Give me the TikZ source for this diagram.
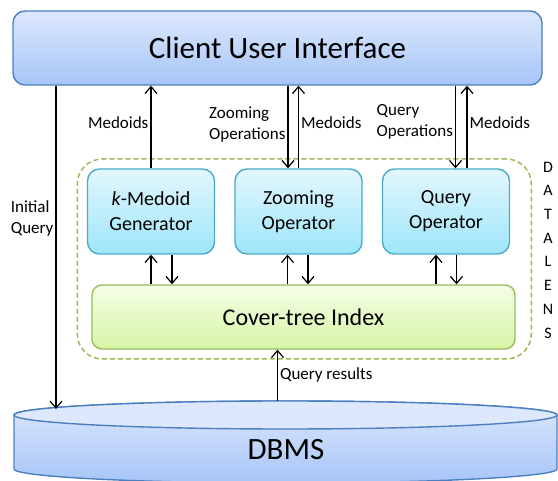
\documentclass[tikz,border=0pt]{standalone}
\usepackage{fontspec}
\setmainfont{Carlito}
\usetikzlibrary{arrows.meta,positioning}
\definecolor{uiblue}  {RGB}{ 76,127,192}
\definecolor{uitop}   {RGB}{221,232,253}
\definecolor{uibot}   {RGB}{166,197,247}
\definecolor{opaqua}  {RGB}{ 75,172,198}
\definecolor{optop}   {RGB}{227,247,253}
\definecolor{opbot}   {RGB}{158,229,250}
\definecolor{idxgreen}{RGB}{155,187, 89}
\definecolor{idxtop}  {RGB}{245,253,230}
\definecolor{idxbot}  {RGB}{214,246,166}

\begin{document}
\begin{tikzpicture}[
    x=1pt, y=-1pt,
    block/.style={draw, rectangle, rounded corners=12pt, line width=1.4pt, align=center, inner sep=0pt},
    uibox/.style={block, draw=uiblue, top color=uitop, bottom color=uibot, minimum width=529pt, minimum height=74pt, font=\fontsize{31}{37}\selectfont},
    opbox/.style={block, draw=opaqua, top color=optop, bottom color=opbot, minimum width=127pt, minimum height=85pt, font=\fontsize{20}{25}\selectfont},
    idxbox/.style={block, draw=idxgreen, top color=idxtop, bottom color=idxbot, rounded corners=10pt, minimum width=423pt, minimum height=64pt, font=\fontsize{24}{28}\selectfont},
    lensbox/.style={draw=idxgreen, dash pattern=on 5pt off 3pt, line width=1.5pt, rounded corners=25pt, minimum width=454pt, minimum height=200pt},
    lbl/.style={font=\fontsize{17}{21}\selectfont, align=left, inner sep=2pt},
    arrow/.style={-{Straight Barb[length=7pt,width=12pt]}, line width=1.2pt}
]
    \useasboundingbox (0,0) rectangle (558,481);

    % DBMS cylinder
    \draw[draw=uiblue, line width=1.4pt, top color=uitop, bottom color=uibot]
        (14,415) -- (14,469) arc[start angle=180, end angle=360, x radius=271.5pt, y radius=14pt]
        -- (557,415) arc[start angle=0, end angle=180, x radius=271.5pt, y radius=14pt] -- cycle;
    \draw[draw=uiblue, line width=1.4pt, fill=uitop] (285.5,415) ellipse[x radius=271.5pt, y radius=14pt];
    \node[font=\fontsize{31}{37}\selectfont] (dbms) at (286,450) {DBMS};
    \coordinate (dbtop) at (277.5,401);
    \coordinate (iqend) at (56,409);

    \node[uibox] (ui) at (277.5,48) {Client User Interface};
    \node[lensbox] (lens) at (304.3,259) {};
    \node[font=\fontsize{16}{23.7}\selectfont, align=center] (dl) at (548,250) {D\\A\\T\\A\\L\\E\\N\\S};

    \node[opbox] (kmed) at (151,211.5) {\textit{k}-Medoid\\Generator};
    \node[opbox] (zoom) at (298.5,211.5) {Zooming\\Operator};
    \node[opbox] (qop) at (446,211.5) {Query\\Operator};
    \node[idxbox] (cover) at (303.5,317) {Cover-tree Index};

    \draw[arrow] (iqend |- ui.south) -- (iqend) node[lbl, left, pos=0.41] {Initial\\Query};

    \draw[arrow] (kmed.north) -- (kmed.north |- ui.south) node[lbl, left, pos=0.55] {Medoids};
    \draw[arrow] ([xshift=-10.5pt]zoom.north |- ui.south) -- ([xshift=-10.5pt]zoom.north) node[lbl, left, pos=0.47] {Zooming\\Operations};
    \draw[arrow] (zoom.north) -- (zoom.north |- ui.south) node[lbl, right, pos=0.55] {Medoids};
    \draw[arrow] ([xshift=9.5pt]qop.north |- ui.south) -- ([xshift=9.5pt]qop.north) node[lbl, left, pos=0.44] {Query\\Operations};
    \draw[arrow] ([xshift=21pt]qop.north) -- ([xshift=21pt]qop.north |- ui.south) node[lbl, right, pos=0.55] {Medoids};

    \draw[arrow] (cover.north -| kmed) -- (kmed.south);
    \draw[arrow] ([xshift=21pt]kmed.south) -- ([xshift=21pt]kmed.south |- cover.north);
    \draw[arrow] ([xshift=-11pt]zoom.south |- cover.north) -- ([xshift=-11pt]zoom.south);
    \draw[arrow] ([xshift=9.5pt]zoom.south) -- ([xshift=9.5pt]zoom.south |- cover.north);
    \draw[arrow] ([xshift=-10pt]qop.south |- cover.north) -- ([xshift=-10pt]qop.south);
    \draw[arrow] ([xshift=10.5pt]qop.south) -- ([xshift=10.5pt]qop.south |- cover.north);

    \draw[arrow] (dbtop) -- (dbtop |- cover.south) node[lbl, right, midway] {Query results};
\end{tikzpicture}
\end{document}
